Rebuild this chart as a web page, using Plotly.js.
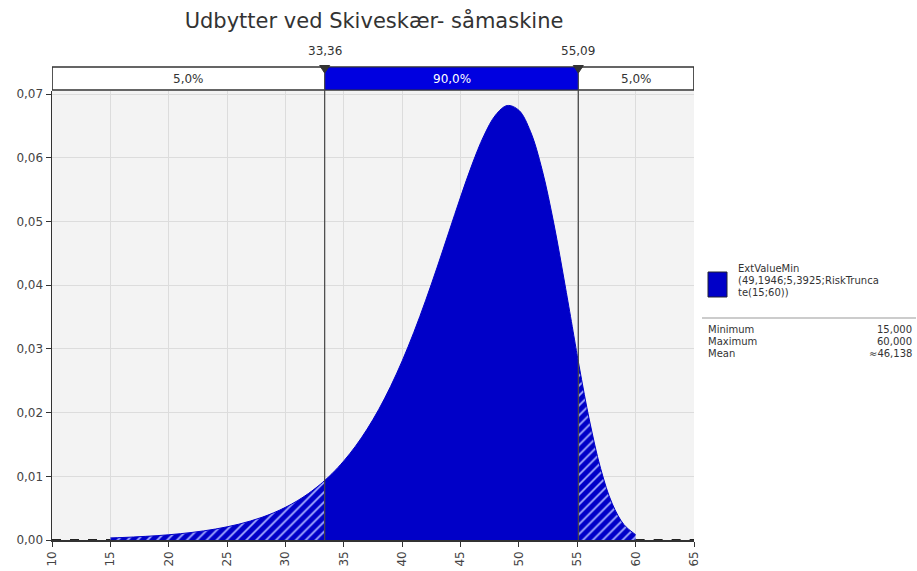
<!DOCTYPE html>
<html>
<head>
<meta charset="utf-8">
<script src="https://cdn.plot.ly/plotly-3.0.1.min.js"></script>
<style>html,body{margin:0;padding:0;background:#fff;}#chart{width:917px;height:571px;}</style>
</head>
<body>
<div id="chart"></div>
<script>
// ---- data ----
const titleText = "Udbytter ved Skiveskær- såmaskine";
const xValues = [15,16,17,18,19,20,21,22,23,24,25,26,27,28,29,30,31,32,33,34,35,36,37,38,39,40,41,42,43,44,45,46,47,48,49,50,51,52,53,54,55,56,57,58,59,60];
const density = [0.00033,0.00039,0.00047,0.00057,0.00068,0.00082,0.00099,0.00119,0.00143,0.00172,0.00207,0.00248,0.00298,0.00357,0.00428,0.00513,0.00614,0.00734,0.00876,0.01044,0.01242,0.01473,0.01742,0.02053,0.02409,0.02812,0.03262,0.03756,0.04285,0.04835,0.05384,0.05902,0.06348,0.06672,0.06822,0.06747,0.06410,0.05804,0.04960,0.03952,0.02895,0.01917,0.01123,0.00568,0.00241,0.00083];
const splitX = [33.36, 55.09];          // 5% and 95% marks
const splitDensity = [0.00934, 0.02802];
const splitLabels = ["33,36", "55,09"];
const bandLabels = ["5,0%", "90,0%", "5,0%"];
const legendName = ["ExtValueMin", "(49,1946;5,3925;RiskTrunca", "te(15;60))"];
const statNames = ["Minimum", "Maximum", "Mean"];
const statValues = ["15,000", "60,000", "≈46,138"];
const xTicks = [10,15,20,25,30,35,40,45,50,55,60,65];
const yTicks = [0,0.01,0.02,0.03,0.04,0.05,0.06,0.07];

// ---- layout helpers ----
const W = 917, H = 571, ML = 52, MR = 223, MT = 91, MB = 31;
const PW = W - ML - MR, PH = H - MT - MB;
const fx = px => (px - ML) / PW;
const fy = py => (H - MB - py) / PH;
const blue = '#0000c8';
const bandBlue = '#0000e0';
const font = "DejaVu Sans, sans-serif";

function segment(lo, hi, loY, hiY) {
  const xs = [], ys = [];
  if (loY !== null) { xs.push(lo); ys.push(loY); }
  for (let i = 0; i < xValues.length; i++) {
    if (xValues[i] >= lo && xValues[i] <= hi) { xs.push(xValues[i]); ys.push(density[i]); }
  }
  if (hiY !== null) { xs.push(hi); ys.push(hiY); }
  return {xs, ys};
}
const xMin = xValues[0], xMax = xValues[xValues.length - 1];
const left = segment(xMin, splitX[0], null, splitDensity[0]);
const mid = segment(splitX[0], splitX[1], splitDensity[0], splitDensity[1]);
const right = segment(splitX[1], xMax, splitDensity[1], null);

const hatch = {shape: '/', bgcolor: blue, fgcolor: '#a8b0ff', size: 7, solidity: 0.25};
const traces = [
  {x: left.xs, y: left.ys, type: 'scatter', mode: 'lines', fill: 'tozeroy', line: {color: blue, width: 1, shape: 'spline'}, fillpattern: hatch, fillcolor: blue},
  {x: mid.xs, y: mid.ys, type: 'scatter', mode: 'lines', fill: 'tozeroy', line: {color: blue, width: 1, shape: 'spline'}, fillcolor: blue},
  {x: right.xs, y: right.ys, type: 'scatter', mode: 'lines', fill: 'tozeroy', line: {color: blue, width: 1, shape: 'spline'}, fillpattern: hatch, fillcolor: blue},
  {x: [xTicks[0], xMin], y: [0, 0], type: 'scatter', mode: 'lines', line: {color: '#222', width: 2, dash: 'dash'}},
  {x: [xMax, xTicks[xTicks.length - 1]], y: [0, 0], type: 'scatter', mode: 'lines', line: {color: '#222', width: 2, dash: 'dash'}}
];

const bandY0 = fy(90), bandY1 = fy(67);
const xLo = xTicks[0], xHi = xTicks[xTicks.length - 1];
const unitsPerPx = (xHi - xLo) / PW;
const shapes = [
  {type: 'rect', xref: 'x', yref: 'paper', x0: xLo, x1: xHi, y0: bandY0, y1: bandY1, fillcolor: '#fff', line: {color: '#333', width: 1.2}},
  {type: 'rect', xref: 'x', yref: 'paper', x0: splitX[0], x1: splitX[1], y0: bandY0, y1: bandY1, fillcolor: bandBlue, line: {width: 0}},
  {type: 'rect', xref: 'x', yref: 'paper', x0: xLo, x1: xHi, y0: bandY0, y1: bandY1, fillcolor: 'rgba(0,0,0,0)', line: {color: '#333', width: 1.2}},
  {type: 'line', xref: 'x', yref: 'paper', x0: splitX[0], x1: splitX[0], y0: 0, y1: bandY1, line: {color: '#444', width: 1.2}},
  {type: 'line', xref: 'x', yref: 'paper', x0: splitX[1], x1: splitX[1], y0: 0, y1: bandY1, line: {color: '#444', width: 1.2}},
  // legend swatch and separator
  {type: 'rect', xref: 'paper', yref: 'paper', x0: fx(708), x1: fx(727), y0: fy(297), y1: fy(272), fillcolor: blue, line: {color: '#223', width: 1}},
  {type: 'line', xref: 'paper', yref: 'paper', x0: fx(702), x1: fx(916), y0: fy(318), y1: fy(318), line: {color: '#999', width: 1}}
];
// downward triangle markers on the band
splitX.forEach(v => {
  const hw = 5 * unitsPerPx;
  shapes.push({type: 'path', xref: 'x', yref: 'paper',
    path: `M ${v - hw},${fy(65.5)} L ${v + hw},${fy(65.5)} L ${v},${fy(73)} Z`,
    fillcolor: '#333', line: {color: '#333', width: 1}});
});

const annotations = [];
const bandCenters = [(xLo + splitX[0]) / 2, (splitX[0] + splitX[1]) / 2, (splitX[1] + xHi) / 2];
bandLabels.forEach((t, i) => annotations.push({x: bandCenters[i], y: fy(79), xref: 'x', yref: 'paper', yanchor: 'middle', text: t, showarrow: false, font: {family: font, size: 12, color: i === 1 ? '#fff' : '#333'}}));
splitX.forEach((v, i) => {
  annotations.push({x: v, y: fy(51), xref: 'x', yref: 'paper', yanchor: 'middle', text: splitLabels[i], showarrow: false, font: {family: font, size: 12, color: '#333'}});
});
legendName.forEach((t, i) => annotations.push({x: fx(736), y: fy(268 + i * 12), xref: 'paper', yref: 'paper', xanchor: 'left', yanchor: 'middle', text: t, showarrow: false, font: {family: font, size: 10, color: '#333'}}));
statNames.forEach((t, i) => {
  annotations.push({x: fx(706), y: fy(329 + i * 12), xref: 'paper', yref: 'paper', xanchor: 'left', yanchor: 'middle', text: t, showarrow: false, font: {family: font, size: 10, color: '#333'}});
  annotations.push({x: fx(914), y: fy(329 + i * 12), xref: 'paper', yref: 'paper', xanchor: 'right', yanchor: 'middle', text: statValues[i], showarrow: false, font: {family: font, size: 10, color: '#333'}});
});

const layout = {
  width: W, height: H,
  margin: {l: ML, r: MR, t: MT, b: MB, pad: 0},
  paper_bgcolor: '#fff', plot_bgcolor: '#f3f3f3',
  separators: ',.',
  showlegend: false,
  title: {text: titleText, x: fx(374), xref: 'paper', xanchor: 'center', y: 1 - 21 / H, yref: 'container', yanchor: 'middle', font: {family: font, size: 21, color: '#333'}},
  xaxis: {range: [xLo, xHi], tickvals: xTicks, ticktext: xTicks.map(String), tickangle: -90, ticks: 'outside', ticklen: 5, tickcolor: '#333', showline: true, linecolor: '#333', linewidth: 1.5, showgrid: true, gridcolor: '#dcdcdc', zeroline: false, tickfont: {family: font, size: 12, color: '#444'}, fixedrange: true},
  yaxis: {range: [0, 0.0705], tickvals: yTicks, tickformat: '.2f', ticks: 'outside', ticklen: 5, tickcolor: '#333', showline: true, linecolor: '#333', linewidth: 1.5, showgrid: true, gridcolor: '#dcdcdc', zeroline: false, tickfont: {family: font, size: 12, color: '#444'}, fixedrange: true},
  shapes: shapes,
  annotations: annotations
};
Plotly.newPlot('chart', traces, layout, {displayModeBar: false, staticPlot: true});
</script>
</body>
</html>
